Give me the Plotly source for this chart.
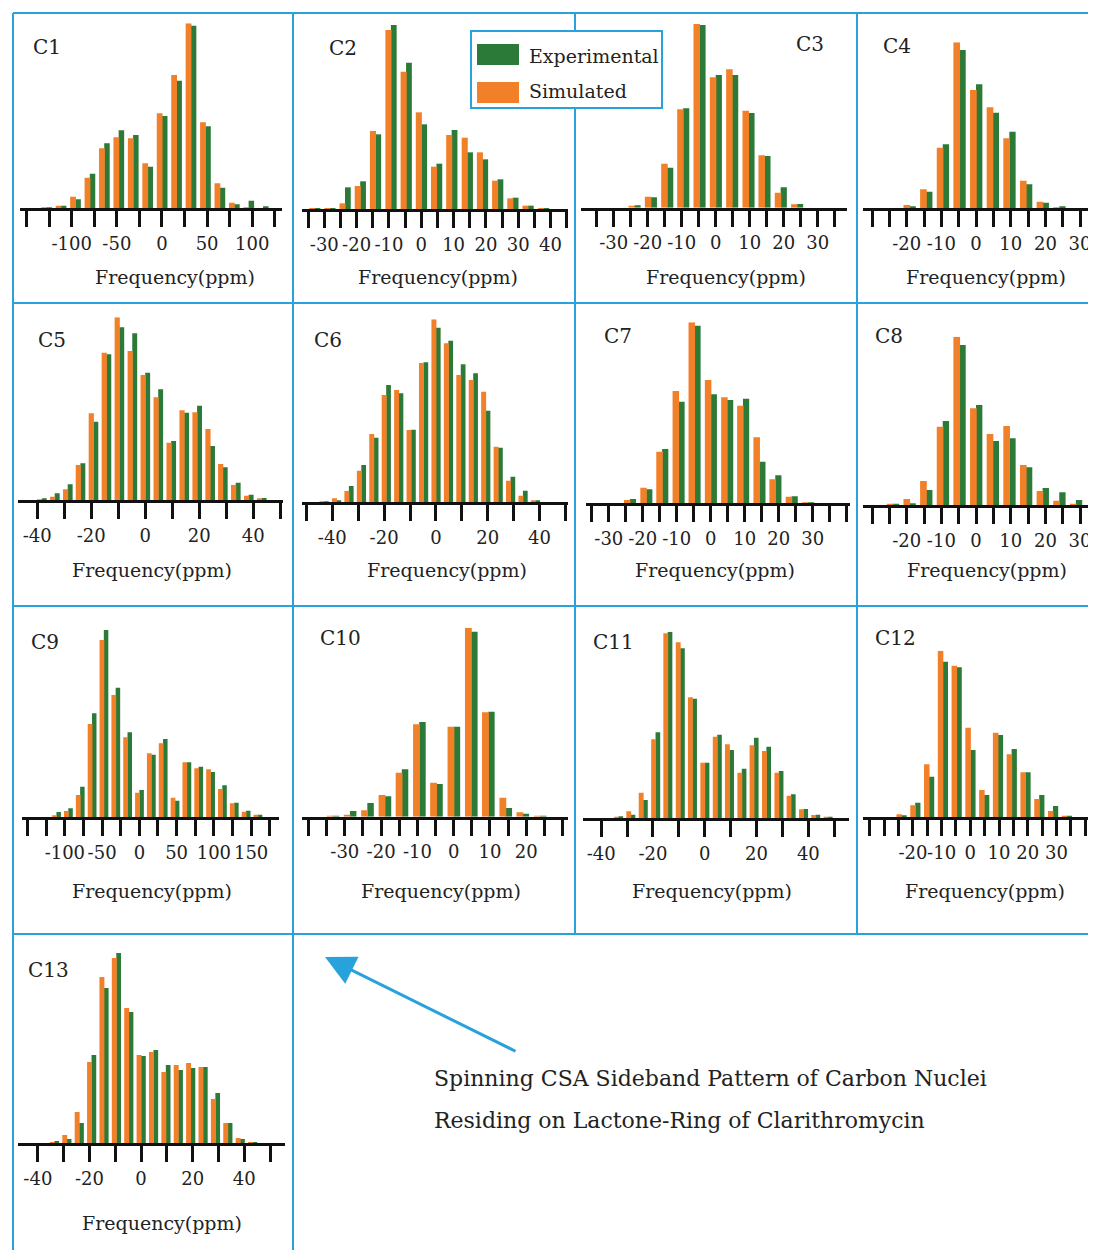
import plotly.graph_objects as go

# page offset: the html body adds an 8px margin, so the figure is drawn smaller and shifted
OFF = 8
W, H = 1096 - OFF, 1258 - 2 * OFF

# ---------------- data (sideband positions in ppm, relative intensities) ----------------
c1_ppm = [-128, -112, -96, -80, -64, -48, -32, -16, 0, 16, 32, 48, 64, 80, 96, 112]
c1_exp = [3, 8, 27, 104, 195, 234, 220, 125, 277, 383, 548, 246, 62, 12, 23, 5]
c1_sim = [1, 8, 35, 92, 180, 213, 210, 135, 285, 400, 555, 258, 75, 17, 2, 0]

c2_ppm = [-33.0, -28.3, -23.6, -18.9, -14.2, -9.4, -4.7, 0, 4.7, 9.4, 14.2, 18.9, 23.6, 28.3, 33.0, 37.8]
c2_exp = [1, 2, 65, 83, 224, 552, 439, 254, 136, 237, 170, 149, 89, 34, 10, 1]
c2_sim = [1, 2, 17, 69, 234, 537, 412, 290, 127, 222, 214, 170, 85, 32, 10, 2]

c3_ppm = [-23.9, -19.1, -14.3, -9.6, -4.8, 0, 4.8, 9.6, 14.3, 19.1, 23.9]
c3_exp = [7, 31, 120, 298, 548, 398, 398, 284, 155, 61, 11]
c3_sim = [6, 33, 132, 295, 551, 391, 415, 291, 157, 45, 10]

c4_ppm = [-19.2, -14.4, -9.6, -4.8, 0, 4.8, 9.6, 14.4, 19.2, 24.0]
c4_exp = [5, 50, 192, 475, 372, 287, 230, 72, 17, 4]
c4_sim = [10, 57, 182, 498, 355, 303, 210, 83, 20, 3]

c5_ppm = [-38.3, -33.5, -28.7, -24.0, -19.2, -14.4, -9.6, -4.8, 0, 4.8, 9.6, 14.4, 19.2, 24.0, 28.7, 33.5, 38.3, 43.1]
c5_exp = [3, 20, 47, 110, 235, 437, 518, 500, 382, 332, 177, 262, 283, 162, 98, 52, 16, 6]
c5_sim = [1, 10, 32, 105, 260, 442, 548, 447, 375, 308, 172, 269, 263, 213, 108, 45, 13, 5]

c6_ppm = [-43.2, -38.4, -33.6, -28.8, -24.0, -19.2, -14.4, -9.6, -4.8, 0, 4.8, 9.6, 14.4, 19.2, 24.0, 28.8, 33.6, 38.4]
c6_exp = [1, 5, 49, 112, 194, 352, 327, 218, 420, 524, 485, 414, 387, 275, 164, 77, 35, 6]
c6_sim = [2, 12, 34, 95, 205, 322, 337, 217, 418, 549, 477, 382, 367, 332, 167, 65, 20, 5]

c7_ppm = [-23.8, -19.0, -14.3, -9.5, -4.8, 0, 4.8, 9.5, 14.3, 19.0, 23.8, 28.6]
c7_exp = [13, 42, 163, 305, 533, 327, 310, 314, 125, 84, 21, 3]
c7_sim = [10, 47, 155, 337, 543, 370, 318, 293, 198, 72, 20, 3]

c8_ppm = [-24.0, -19.2, -14.4, -9.6, -4.8, 0, 4.8, 9.6, 14.4, 19.2, 24.0, 28.8]
c8_exp = [3, 5, 45, 252, 480, 300, 192, 200, 113, 51, 38, 15]
c8_sim = [4, 18, 72, 235, 505, 290, 213, 237, 120, 42, 13, 4]

c9_ppm = [-111.3, -95.4, -79.5, -63.6, -47.7, -31.8, -15.9, 0, 15.9, 31.8, 47.7, 63.6, 79.5, 95.4, 111.3, 127.2, 143.1, 159.0]
c9_exp = [16, 27, 92, 312, 562, 389, 255, 82, 188, 235, 50, 165, 152, 136, 96, 44, 20, 8]
c9_sim = [6, 19, 67, 280, 532, 367, 240, 74, 192, 222, 59, 165, 147, 144, 85, 42, 17, 8]

c10_ppm = [-33.3, -28.6, -23.8, -19.0, -14.3, -9.5, -4.8, 0, 4.8, 9.5, 14.3, 19.0, 23.8]
c10_exp = [1, 17, 41, 61, 142, 284, 98, 270, 555, 315, 26, 9, 1]
c10_sim = [1, 5, 19, 65, 132, 277, 102, 270, 567, 313, 57, 13, 1]

c11_ppm = [-33.3, -28.6, -23.8, -19.0, -14.3, -9.5, -4.8, 0, 4.8, 9.5, 14.3, 19.0, 23.8, 28.6, 33.3, 38.1, 42.8, 47.6]
c11_exp = [6, 11, 55, 258, 560, 510, 359, 167, 251, 205, 149, 242, 215, 142, 72, 28, 11, 2]
c11_sim = [5, 21, 77, 237, 555, 528, 363, 167, 245, 222, 137, 219, 202, 137, 68, 27, 10, 2]

c12_ppm = [-24.0, -19.2, -14.4, -9.6, -4.8, 0, 4.8, 9.6, 14.4, 19.2, 24.0, 28.8, 33.6]
c12_exp = [6, 44, 122, 467, 450, 202, 67, 247, 205, 135, 67, 34, 3]
c12_sim = [9, 36, 159, 500, 455, 269, 82, 254, 189, 135, 55, 19, 3]

c13_ppm = [-33.6, -28.8, -24.0, -19.2, -14.4, -9.6, -4.8, 0, 4.8, 9.6, 14.4, 19.2, 24.0, 28.8, 33.6, 38.4, 43.2]
c13_exp = [2, 4, 20, 88, 155, 190, 131, 87, 93, 78, 73, 75, 76, 50, 20, 4, 1]
c13_sim = [1, 8, 31, 81, 166, 185, 135, 88, 91, 71, 78, 80, 76, 44, 20, 5, 1]

# tick labels
c1_labels = [-100, -50, 0, 50, 100]
c2_labels = [-30, -20, -10, 0, 10, 20, 30, 40]
c3_labels = [-30, -20, -10, 0, 10, 20, 30]
c4_labels = [-20, -10, 0, 10, 20, 30]
c5_labels = [-40, -20, 0, 20, 40]
c6_labels = [-40, -20, 0, 20, 40]
c7_labels = [-30, -20, -10, 0, 10, 20, 30]
c8_labels = [-20, -10, 0, 10, 20, 30]
c9_labels = [-100, -50, 0, 50, 100, 150]
c10_labels = [-30, -20, -10, 0, 10, 20]
c11_labels = [-40, -20, 0, 20, 40]
c12_labels = [-20, -10, 0, 10, 20, 30]
c13_labels = [-40, -20, 0, 20, 40]

# ---------------- styling ----------------
GREEN = "#2c7a37"
ORANGE = "#f28029"
BLUE = "#28a2dc"
INK = "#222222"
FONT = "DejaVu Serif"


def PX(v):
    return (v - OFF) / W


def PY(v):
    return 1 - (v - OFF) / H


panels = [
    dict(name="C1", ppm=c1_ppm, exp=c1_exp, sim=c1_sim, labels=c1_labels, tk=(-150, 125, 25),
         xr=[-157, 133], xpx=[20.3, 282], base=208.3, top=23.3, lab=(47, 47), ttl=(175, 277)),
    dict(name="C2", ppm=c2_ppm, exp=c2_exp, sim=c2_sim, labels=c2_labels, tk=(-35, 45, 5),
         xr=[-36.9, 45.4], xpx=[302, 568], base=209, top=25, lab=(343, 48), ttl=(438, 277)),
    dict(name="C3", ppm=c3_ppm, exp=c3_exp, sim=c3_sim, labels=c3_labels, tk=(-35, 35, 5),
         xr=[-39.7, 38.7], xpx=[580.7, 847.3], base=207.7, top=24, lab=(810, 44), ttl=(726, 277)),
    dict(name="C4", ppm=c4_ppm, exp=c4_exp, sim=c4_sim, labels=c4_labels, tk=(-30, 35, 5),
         xr=[-32.6, 34.6], xpx=[863, 1096], base=208.3, top=42.3, lab=(897, 46), ttl=(986, 277)),
    dict(name="C5", ppm=c5_ppm, exp=c5_exp, sim=c5_sim, labels=c5_labels, tk=(-40, 50, 10),
         xr=[-47.1, 50.9], xpx=[18, 282.7], base=500, top=317.3, lab=(52, 340), ttl=(152, 570)),
    dict(name="C6", ppm=c6_ppm, exp=c6_exp, sim=c6_sim, labels=c6_labels, tk=(-50, 50, 10),
         xr=[-51.7, 51.0], xpx=[302, 568], base=502.3, top=319.3, lab=(328, 340), ttl=(447, 570)),
    dict(name="C7", ppm=c7_ppm, exp=c7_exp, sim=c7_sim, labels=c7_labels, tk=(-35, 40, 5),
         xr=[-36.8, 41.0], xpx=[585.7, 850], base=503.3, top=322.3, lab=(618, 336), ttl=(715, 570)),
    dict(name="C8", ppm=c8_ppm, exp=c8_exp, sim=c8_sim, labels=c8_labels, tk=(-30, 35, 5),
         xr=[-32.6, 34.6], xpx=[863, 1096], base=505, top=336.7, lab=(889, 336), ttl=(987, 570)),
    dict(name="C9", ppm=c9_ppm, exp=c9_exp, sim=c9_sim, labels=c9_labels, tk=(-150, 175, 25),
         xr=[-157.5, 187], xpx=[22, 278.7], base=817.3, top=630, lab=(45, 642), ttl=(152, 891)),
    dict(name="C10", ppm=c10_ppm, exp=c10_exp, sim=c10_sim, labels=c10_labels, tk=(-40, 30, 5),
         xr=[-41.8, 31.5], xpx=[302, 568], base=816.7, top=627.7, lab=(340, 638), ttl=(441, 891)),
    dict(name="C11", ppm=c11_ppm, exp=c11_exp, sim=c11_sim, labels=c11_labels, tk=(-40, 50, 10),
         xr=[-46.9, 55.7], xpx=[583.3, 849], base=818.3, top=631.7, lab=(613, 642), ttl=(712, 891)),
    dict(name="C12", ppm=c12_ppm, exp=c12_exp, sim=c12_sim, labels=c12_labels, tk=(-35, 45, 5),
         xr=[-37.5, 43.8], xpx=[862.7, 1096], base=817.3, top=650.7, lab=(895, 638), ttl=(985, 891)),
    dict(name="C13", ppm=c13_ppm, exp=c13_exp, sim=c13_sim, labels=c13_labels, tk=(-40, 50, 10),
         xr=[-47.7, 55.8], xpx=[18, 285], base=1143, top=953, lab=(48, 970), ttl=(162, 1223)),
]

fig = go.Figure()
layout_axes = {}
annotations = []

for i, p in enumerate(panels, start=1):
    xa = "x" if i == 1 else f"x{i}"
    ya = "y" if i == 1 else f"y{i}"
    s = p["ppm"][1] - p["ppm"][0]
    fig.add_trace(go.Bar(x=p["ppm"], y=p["exp"], width=0.38 * s, offset=0.0,
                         marker=dict(color=GREEN, line=dict(width=0)),
                         xaxis=xa, yaxis=ya, showlegend=False, name="Experimental"))
    fig.add_trace(go.Bar(x=p["ppm"], y=p["sim"], width=0.40 * s, offset=-0.36 * s,
                         marker=dict(color=ORANGE, line=dict(width=0)),
                         xaxis=xa, yaxis=ya, showlegend=False, name="Simulated"))
    t0, t1, st = p["tk"]
    tickvals = list(range(t0, t1 + 1, st))
    ticktext = [str(v) if v in p["labels"] else "" for v in tickvals]
    xkey = "xaxis" if i == 1 else f"xaxis{i}"
    ykey = "yaxis" if i == 1 else f"yaxis{i}"
    layout_axes[xkey] = dict(
        domain=[PX(p["xpx"][0]), PX(p["xpx"][1])], range=p["xr"], anchor=ya,
        showline=True, linewidth=3, linecolor="#111111",
        ticks="outside", ticklen=16, tickwidth=3, tickcolor="#111111",
        tickmode="array", tickvals=tickvals, ticktext=ticktext, tickangle=0,
        tickfont=dict(family=FONT, size=18, color=INK), ticklabelstandoff=1,
        showgrid=False, zeroline=False,
    )
    ymax = max(max(p["exp"]), max(p["sim"]))
    layout_axes[ykey] = dict(
        domain=[PY(p["base"]), PY(p["top"])], range=[0, ymax], anchor=xa,
        visible=False, showgrid=False, zeroline=False,
    )
    annotations.append(dict(text=p["name"], x=PX(p["lab"][0]), y=PY(p["lab"][1]),
                            xref="paper", yref="paper", showarrow=False,
                            xanchor="center", yanchor="middle",
                            font=dict(family=FONT, size=20, color=INK)))
    annotations.append(dict(text="Frequency(ppm)", x=PX(p["ttl"][0]), y=PY(p["ttl"][1]),
                            xref="paper", yref="paper", showarrow=False,
                            xanchor="center", yanchor="middle",
                            font=dict(family=FONT, size=19, color=INK)))


def px_line(x0, y0, x1, y1, color=BLUE, width=2):
    return dict(type="line", xref="paper", yref="paper",
                x0=PX(x0), x1=PX(x1), y0=PY(y0), y1=PY(y1),
                line=dict(color=color, width=width), layer="above")


shapes = []
for xv, ybot in [(13, 1258), (293, 1258), (575, 934), (857, 934)]:
    shapes.append(px_line(xv, 13, xv, ybot))
for yv in [13, 303, 606, 934]:
    shapes.append(px_line(13, yv, 1096, yv))

# legend box
shapes.append(dict(type="rect", xref="paper", yref="paper",
                   x0=PX(471), x1=PX(662), y0=PY(31), y1=PY(108),
                   line=dict(color=BLUE, width=2), fillcolor="white", layer="above"))
shapes.append(dict(type="rect", xref="paper", yref="paper",
                   x0=PX(477), x1=PX(519), y0=PY(44), y1=PY(65),
                   line=dict(width=0), fillcolor=GREEN, layer="above"))
shapes.append(dict(type="rect", xref="paper", yref="paper",
                   x0=PX(477), x1=PX(519), y0=PY(82), y1=PY(103),
                   line=dict(width=0), fillcolor=ORANGE, layer="above"))
annotations.append(dict(text="Experimental", x=PX(527), y=PY(56), xref="paper", yref="paper",
                        showarrow=False, xanchor="left", yanchor="middle",
                        font=dict(family=FONT, size=19, color=INK)))
annotations.append(dict(text="Simulated", x=PX(527), y=PY(91), xref="paper", yref="paper",
                        showarrow=False, xanchor="left", yanchor="middle",
                        font=dict(family=FONT, size=19, color=INK)))

# arrow and description
annotations.append(dict(text="", x=PX(325), y=PY(957), xref="paper", yref="paper",
                        showarrow=True, ax=192, ay=95, axref="pixel", ayref="pixel",
                        arrowhead=2, arrowsize=2.0, arrowwidth=3, arrowcolor=BLUE))
annotations.append(dict(text="Spinning CSA Sideband Pattern of Carbon Nuclei",
                        x=PX(432), y=PY(1078), xref="paper", yref="paper",
                        showarrow=False, xanchor="left", yanchor="middle",
                        font=dict(family=FONT, size=22, color=INK)))
annotations.append(dict(text="Residing on Lactone-Ring of Clarithromycin",
                        x=PX(432), y=PY(1120), xref="paper", yref="paper",
                        showarrow=False, xanchor="left", yanchor="middle",
                        font=dict(family=FONT, size=22, color=INK)))

fig.update_layout(
    width=W, height=H, margin=dict(l=0, r=0, t=0, b=0),
    paper_bgcolor="white", plot_bgcolor="white",
    barmode="overlay", showlegend=False,
    shapes=shapes, annotations=annotations,
    **layout_axes,
)

fig.write_html("out.html")
